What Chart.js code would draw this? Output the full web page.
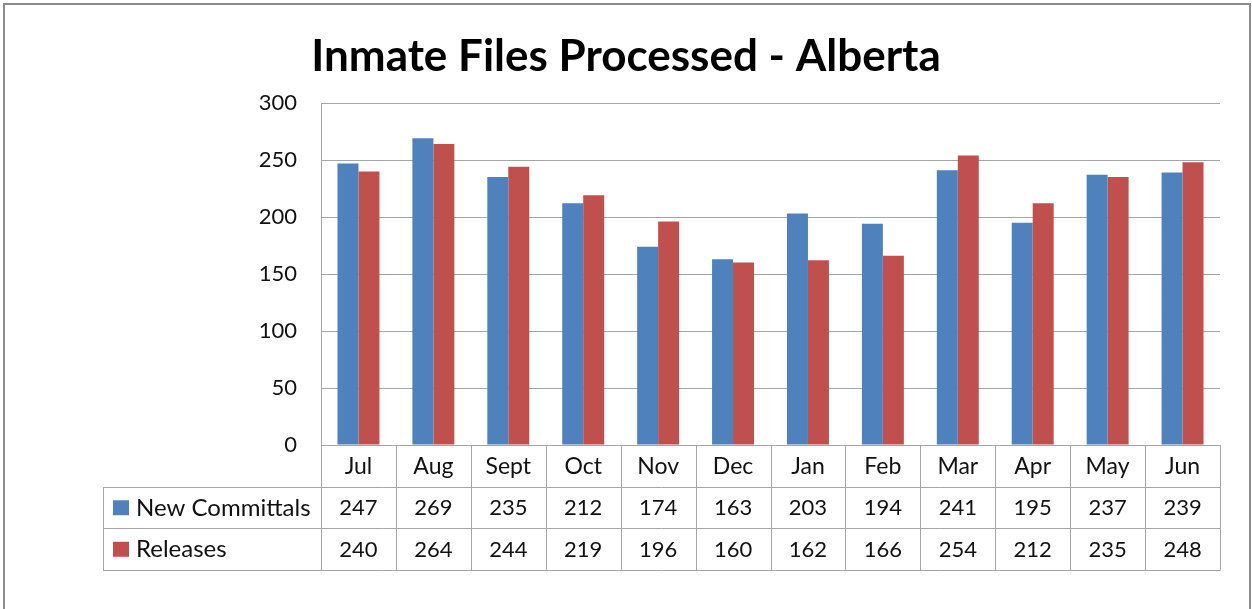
<!DOCTYPE html>
<html>
<head>
<meta charset="utf-8">
<script src="https://cdn.jsdelivr.net/npm/chart.js@4/dist/chart.umd.min.js"></script>
<style>
  html, body { margin: 0; padding: 0; background: #fff; }
  #wrap { width: 1252px; height: 609px; }
</style>
</head>
<body>
<div id="wrap"><canvas id="inmateChart" width="1252" height="609"></canvas></div>
<script>
const chartTitle = 'Inmate Files Processed - Alberta';
const months = ['Jul', 'Aug', 'Sept', 'Oct', 'Nov', 'Dec', 'Jan', 'Feb', 'Mar', 'Apr', 'May', 'Jun'];
const newCommittals = [247, 269, 235, 212, 174, 163, 203, 194, 241, 195, 237, 239];
const releases = [240, 264, 244, 219, 196, 160, 162, 166, 254, 212, 235, 248];
const seriesNames = ['New Committals', 'Releases'];
const seriesColors = ['#4f81bd', '#c0504d'];

const FONT = 'Lato, Carlito, Calibri, sans-serif';
const lineColor = '#a6a6a6';
const textColor = '#111';

// background, frame, title and the excel-style data table under the plot
const dataTable = {
  id: 'dataTable',
  beforeDraw(chart) {
    const ctx = chart.ctx;
    ctx.save();
    ctx.fillStyle = '#fff';
    ctx.fillRect(0, 0, chart.width, chart.height);
    ctx.strokeStyle = '#8c8c8c';
    ctx.lineWidth = 2;
    ctx.strokeRect(4, 4, chart.width - 6, chart.height + 4);
    ctx.restore();
  },
  afterDraw(chart) {
    const ctx = chart.ctx;
    const x = chart.scales.x;
    const area = chart.chartArea;
    const catW = (area.right - area.left) / months.length;
    const rowH = 41.5;
    const top = area.bottom;
    const tableLeft = 103;
    const rows = [newCommittals, releases];

    ctx.save();
    ctx.fillStyle = '#000';
    ctx.font = 'bold 44px ' + FONT;
    ctx.textAlign = 'center';
    ctx.textBaseline = 'alphabetic';
    ctx.fillText(chartTitle, 626, 71);

    ctx.strokeStyle = lineColor;
    ctx.lineWidth = 1;
    ctx.beginPath();
    ctx.moveTo(area.left, top + 0.5);
    ctx.lineTo(area.right, top + 0.5);
    for (let r = 1; r <= 3; r++) {
      const y = Math.round(top + r * rowH) + 0.5;
      ctx.moveTo(tableLeft, y);
      ctx.lineTo(area.right, y);
    }
    const bottom = Math.round(top + 3 * rowH) + 0.5;
    ctx.moveTo(tableLeft + 0.5, Math.round(top + rowH));
    ctx.lineTo(tableLeft + 0.5, bottom);
    for (let i = 0; i <= months.length; i++) {
      const vx = Math.round(x.getPixelForValue(0) - catW / 2 + i * catW) + 0.5;
      ctx.moveTo(vx, top);
      ctx.lineTo(vx, bottom);
    }
    ctx.stroke();

    ctx.fillStyle = textColor;
    ctx.textAlign = 'center';
    ctx.textBaseline = 'middle';
    months.forEach((m, i) => {
      const cx = x.getPixelForValue(i);
      ctx.font = '23px ' + FONT;
      ctx.fillText(m, cx, top + rowH / 2 + 1);
      ctx.font = '22px ' + FONT;
      rows.forEach((vals, r) => {
        ctx.fillText(String(vals[i]), cx, top + (r + 1.5) * rowH + 1);
      });
    });

    ctx.textAlign = 'left';
    ctx.font = '24px ' + FONT;
    seriesNames.forEach((name, r) => {
      const cy = top + (r + 1.5) * rowH;
      ctx.fillStyle = seriesColors[r];
      ctx.fillRect(113, cy - 7, 16, 15);
      ctx.fillStyle = textColor;
      ctx.fillText(name, 136, cy + 1);
    });
    ctx.restore();
  }
};

new Chart(document.getElementById('inmateChart'), {
  type: 'bar',
  data: {
    labels: months,
    datasets: [
      { label: seriesNames[0], data: newCommittals, backgroundColor: seriesColors[0] },
      { label: seriesNames[1], data: releases, backgroundColor: seriesColors[1] }
    ]
  },
  options: {
    responsive: false,
    animation: false,
    layout: { padding: { left: 0, right: 32, top: 103, bottom: 164 } },
    datasets: { bar: { barPercentage: 1, categoryPercentage: 0.56 } },
    plugins: {
      legend: { display: false },
      tooltip: { enabled: false },
      title: { display: false }
    },
    scales: {
      x: { display: false },
      y: {
        min: 0,
        max: 300,
        afterFit(scale) { scale.width = 321; },
        ticks: { stepSize: 50, padding: 24, color: textColor, font: { family: FONT, size: 22 } },
        grid: { color: lineColor, drawTicks: false },
        border: { color: lineColor }
      }
    }
  },
  plugins: [dataTable]
});
</script>
</body>
</html>
